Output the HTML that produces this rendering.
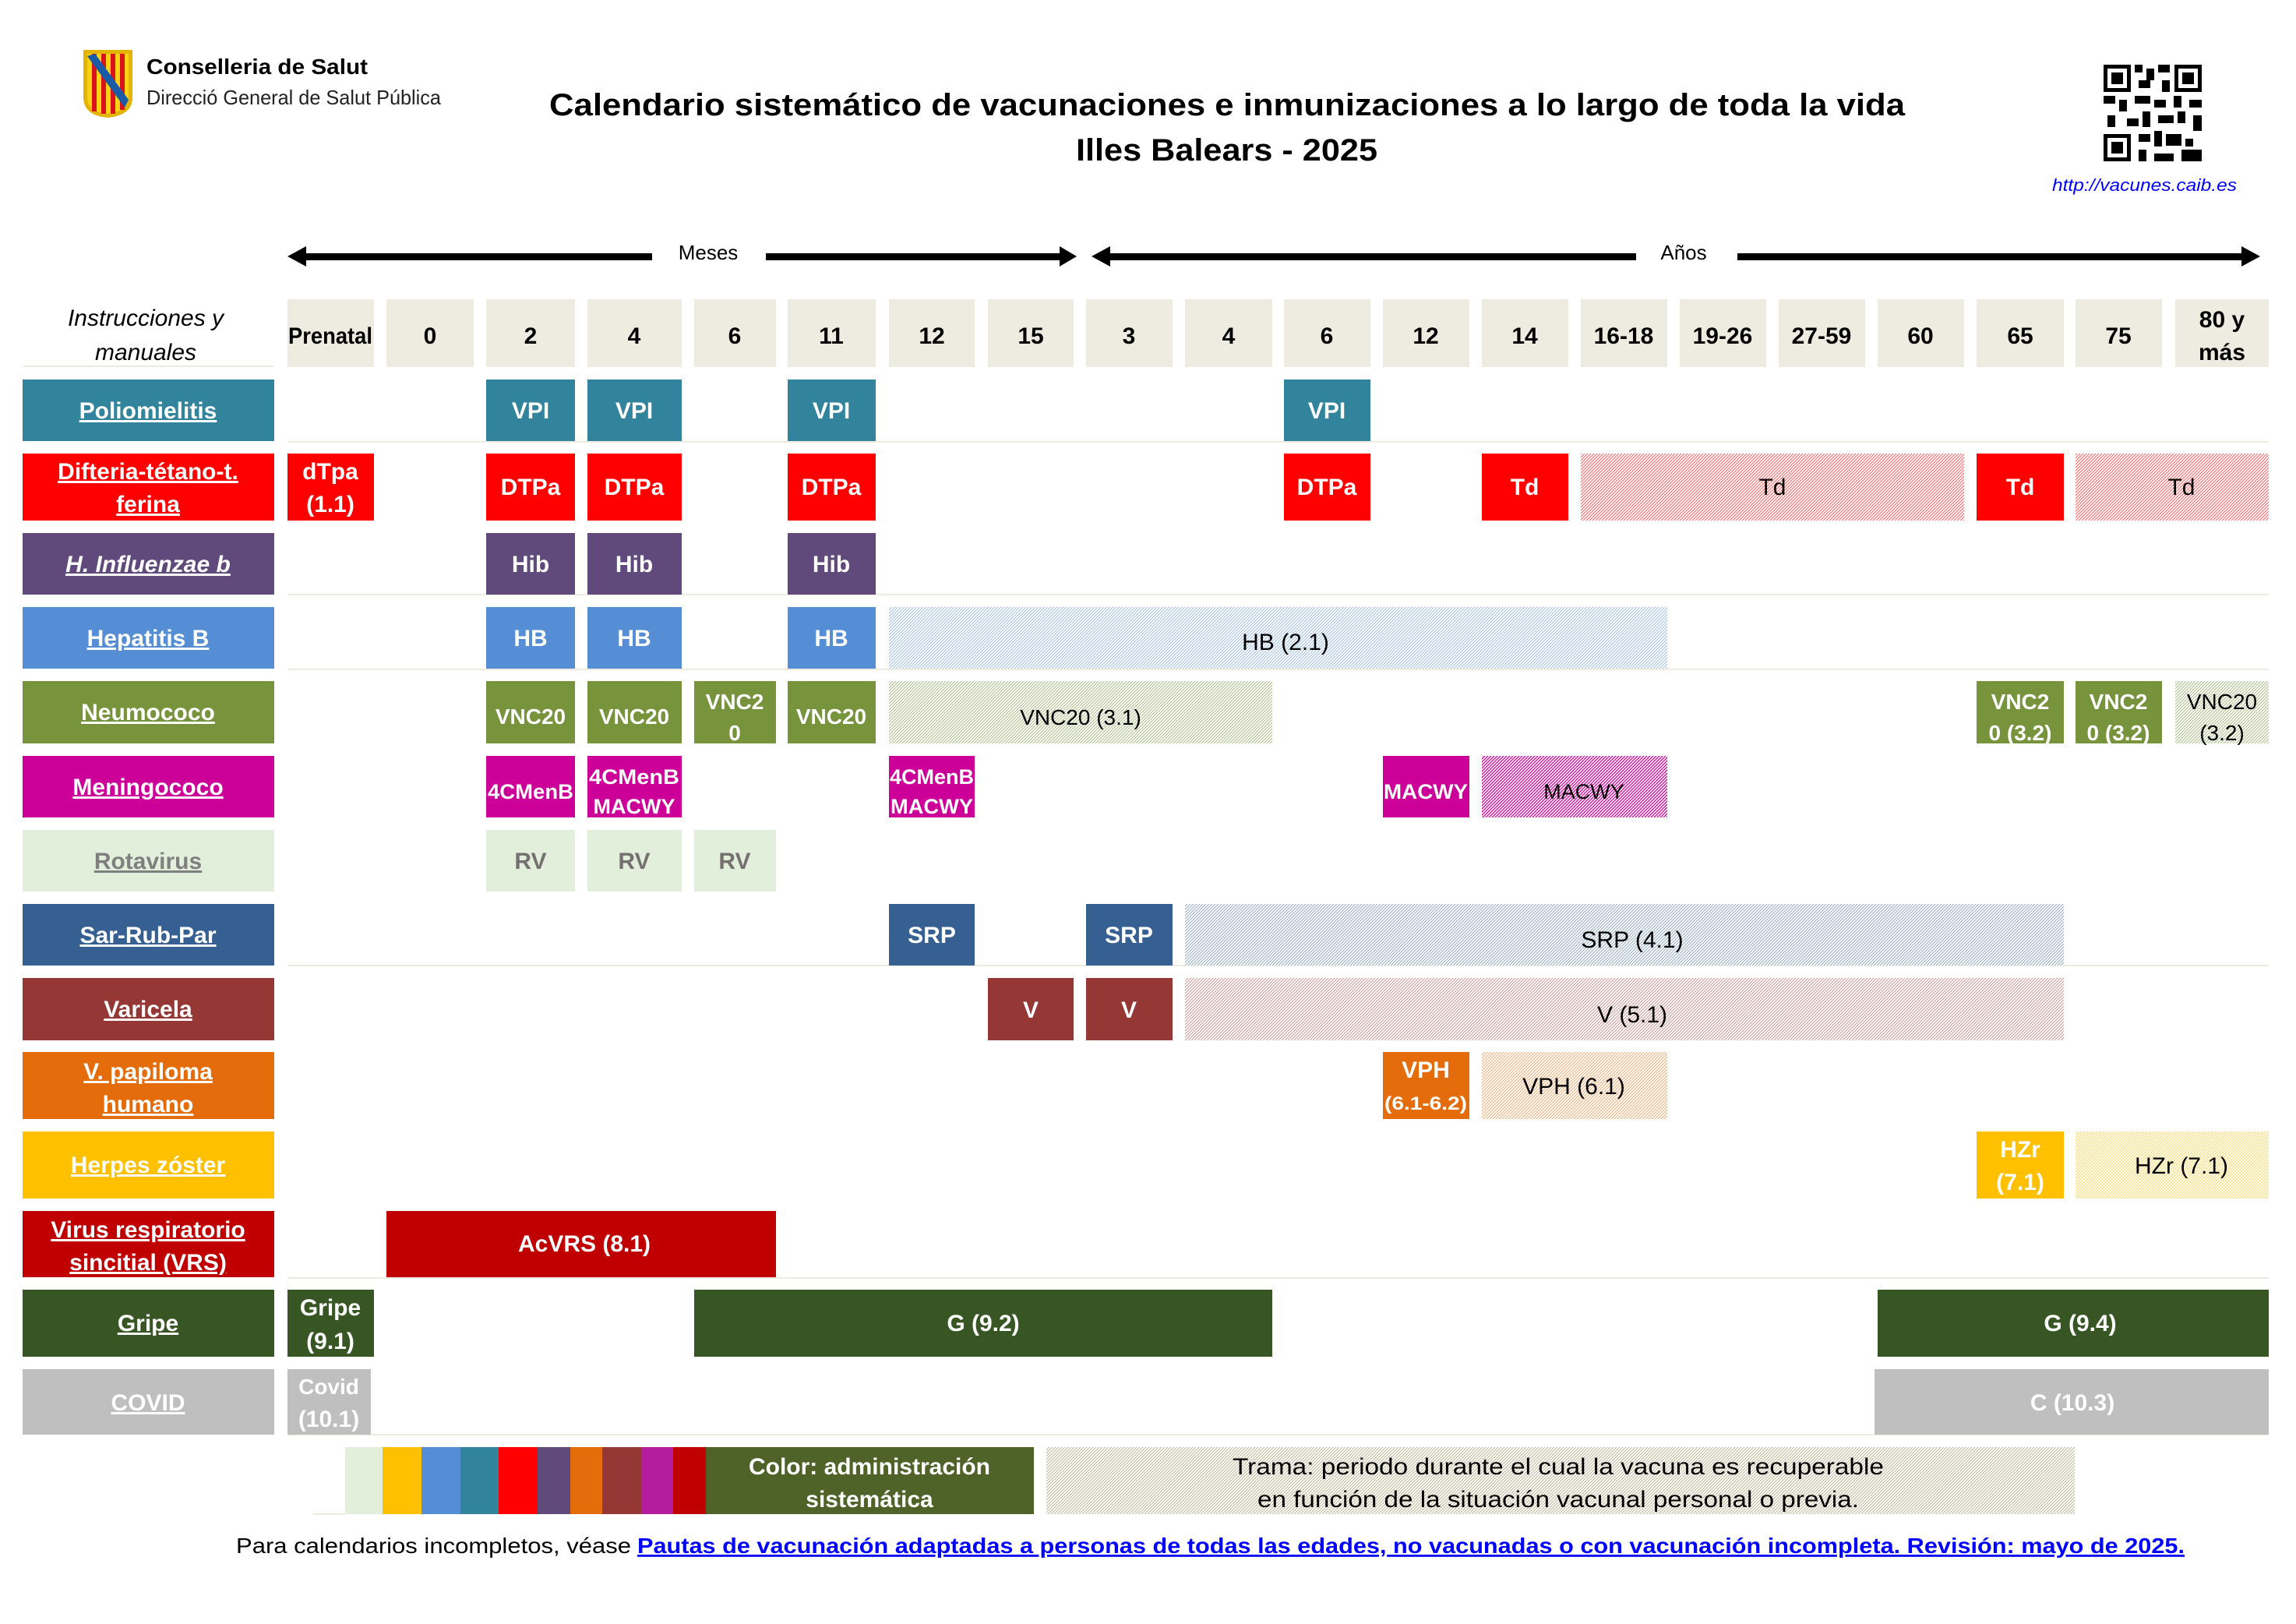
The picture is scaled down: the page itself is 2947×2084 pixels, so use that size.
<!DOCTYPE html>
<html><head><meta charset="utf-8"><style>html,body{margin:0;padding:0;background:#fff}svg{display:block}</style></head>
<body>
<svg xmlns="http://www.w3.org/2000/svg" width="2947" height="2084" viewBox="0 0 2947 2084" font-family="Liberation Sans, sans-serif">
<defs>
<pattern id="hR" width="4" height="4" patternUnits="userSpaceOnUse"><rect width="4" height="4" fill="#fff"/><path d="M-1,1 L1,-1 M0,4 L4,0 M3,5 L5,3" stroke="#ff0000" stroke-width="1.1" opacity="0.6"/></pattern>
<pattern id="hB" width="4" height="4" patternUnits="userSpaceOnUse"><rect width="4" height="4" fill="#fff"/><path d="M-1,1 L1,-1 M0,4 L4,0 M3,5 L5,3" stroke="#558ed5" stroke-width="1.1" opacity="0.55"/></pattern>
<pattern id="hG" width="4" height="4" patternUnits="userSpaceOnUse"><rect width="4" height="4" fill="#fff"/><path d="M-1,1 L1,-1 M0,4 L4,0 M3,5 L5,3" stroke="#77933c" stroke-width="1.1" opacity="0.6"/></pattern>
<pattern id="hM" width="4" height="4" patternUnits="userSpaceOnUse"><rect width="4" height="4" fill="#fff"/><path d="M-1,1 L1,-1 M0,4 L4,0 M3,5 L5,3" stroke="#cc0099" stroke-width="1.3"/></pattern>
<pattern id="hS" width="4" height="4" patternUnits="userSpaceOnUse"><rect width="4" height="4" fill="#fff"/><path d="M-1,1 L1,-1 M0,4 L4,0 M3,5 L5,3" stroke="#366092" stroke-width="1.1" opacity="0.5"/></pattern>
<pattern id="hV" width="4" height="4" patternUnits="userSpaceOnUse"><rect width="4" height="4" fill="#fff"/><path d="M-1,1 L1,-1 M0,4 L4,0 M3,5 L5,3" stroke="#953735" stroke-width="1.1" opacity="0.5"/></pattern>
<pattern id="hO" width="4" height="4" patternUnits="userSpaceOnUse"><rect width="4" height="4" fill="#fff"/><path d="M-1,1 L1,-1 M0,4 L4,0 M3,5 L5,3" stroke="#e46c0a" stroke-width="1.1" opacity="0.55"/></pattern>
<pattern id="hY" width="4" height="4" patternUnits="userSpaceOnUse"><rect width="4" height="4" fill="#fff"/><path d="M-1,1 L1,-1 M0,4 L4,0 M3,5 L5,3" stroke="#ffc000" stroke-width="1.1" opacity="0.6"/></pattern>
<pattern id="hL" width="4" height="4" patternUnits="userSpaceOnUse"><rect width="4" height="4" fill="#fff"/><path d="M-1,1 L1,-1 M0,4 L4,0 M3,5 L5,3" stroke="#948a54" stroke-width="1.1" opacity="0.6"/></pattern>
</defs>

<!-- Logo -->
<path d="M107,64 L170,64 L170,125 Q170,148 138,151 Q107,148 107,125 Z" fill="#e3b400"/>
<path d="M112,69 L165,69 L165,124 Q165,143 138,146 Q112,143 112,124 Z" fill="#fcd116"/>
<g fill="#da121a"><rect x="118" y="69" width="6" height="74"/><rect x="130" y="69" width="6" height="77"/><rect x="142" y="69" width="6" height="77"/><rect x="154" y="69" width="6" height="72"/></g>
<path d="M112,72 L122,69 L165,128 L160,138 Z" fill="#1a5aa6"/>
<text x="188" y="95" font-size="28" font-weight="bold" textLength="284" lengthAdjust="spacingAndGlyphs">Conselleria de Salut</text>
<text x="188" y="134" font-size="26" fill="#222" textLength="378" lengthAdjust="spacingAndGlyphs">Direcció General de Salut Pública</text>

<!-- Title -->
<text x="705" y="148" font-size="40" font-weight="bold" textLength="1740" lengthAdjust="spacingAndGlyphs">Calendario sistemático de vacunaciones e inmunizaciones a lo largo de toda la vida</text>
<text x="1381" y="206" font-size="40" font-weight="bold" textLength="387" lengthAdjust="spacingAndGlyphs">Illes Balears - 2025</text>

<!-- QR -->
<g fill="#000">
<rect x="2700" y="83" width="35" height="35"/><rect x="2705" y="88" width="25" height="25" fill="#fff"/><rect x="2710" y="93" width="15" height="15"/>
<rect x="2791" y="83" width="35" height="35"/><rect x="2796" y="88" width="25" height="25" fill="#fff"/><rect x="2801" y="93" width="15" height="15"/>
<rect x="2700" y="172" width="35" height="35"/><rect x="2705" y="177" width="25" height="25" fill="#fff"/><rect x="2710" y="182" width="15" height="15"/>
<rect x="2740" y="83" width="10" height="10"/><rect x="2755" y="88" width="10" height="15"/><rect x="2770" y="83" width="15" height="10"/><rect x="2745" y="103" width="15" height="10"/><rect x="2775" y="103" width="10" height="15"/>
<rect x="2700" y="123" width="15" height="10"/><rect x="2720" y="128" width="10" height="15"/><rect x="2740" y="123" width="20" height="10"/><rect x="2765" y="128" width="15" height="10"/><rect x="2790" y="123" width="10" height="15"/><rect x="2810" y="128" width="16" height="10"/>
<rect x="2705" y="148" width="10" height="15"/><rect x="2730" y="152" width="15" height="10"/><rect x="2750" y="143" width="10" height="20"/><rect x="2770" y="148" width="20" height="10"/><rect x="2795" y="143" width="10" height="15"/><rect x="2815" y="148" width="11" height="20"/>
<rect x="2745" y="172" width="15" height="10"/><rect x="2765" y="168" width="10" height="20"/><rect x="2780" y="172" width="20" height="15"/><rect x="2805" y="178" width="10" height="10"/><rect x="2745" y="192" width="10" height="15"/><rect x="2765" y="197" width="25" height="10"/><rect x="2800" y="192" width="26" height="15"/>
</g>
<text x="2634" y="245" font-size="22" font-style="italic" fill="#0000ff" textLength="237" lengthAdjust="spacingAndGlyphs">http://vacunes.caib.es</text>

<!-- Arrows -->
<g fill="#000">
<rect x="380" y="325" width="457" height="9"/><path d="M369,329 L393,316 L393,342 Z"/>
<rect x="983" y="325" width="386" height="9"/><path d="M1382,329 L1360,316 L1360,342 Z"/>
<rect x="1410" y="325" width="690" height="9"/><path d="M1401,329 L1425,316 L1425,342 Z"/>
<rect x="2230" y="325" width="650" height="9"/><path d="M2901,329 L2877,316 L2877,342 Z"/>
</g>
<text x="909" y="333" font-size="26" text-anchor="middle">Meses</text>
<text x="2161" y="333" font-size="26" text-anchor="middle">Años</text>

<!-- Header row -->
<text x="187" y="418" font-size="30" font-style="italic" text-anchor="middle">Instrucciones y</text>
<text x="187" y="462" font-size="30" font-style="italic" text-anchor="middle">manuales</text>
<rect x="29" y="469" width="323" height="2" fill="#eeece1"/>
<g fill="#eeece1">
<rect x="369" y="384" width="111" height="87"/><rect x="496" y="384" width="112" height="87"/><rect x="624" y="384" width="114" height="87"/><rect x="754" y="384" width="121" height="87"/><rect x="891" y="384" width="105" height="87"/><rect x="1011" y="384" width="113" height="87"/><rect x="1141" y="384" width="110" height="87"/><rect x="1268" y="384" width="110" height="87"/><rect x="1394" y="384" width="111" height="87"/><rect x="1521" y="384" width="112" height="87"/><rect x="1648" y="384" width="111" height="87"/><rect x="1775" y="384" width="111" height="87"/><rect x="1902" y="384" width="111" height="87"/><rect x="2029" y="384" width="111" height="87"/><rect x="2156" y="384" width="111" height="87"/><rect x="2283" y="384" width="111" height="87"/><rect x="2410" y="384" width="111" height="87"/><rect x="2537" y="384" width="112" height="87"/><rect x="2664" y="384" width="111" height="87"/><rect x="2792" y="384" width="120" height="87"/>
</g>
<g font-size="30" font-weight="bold" text-anchor="middle">
<text x="424" y="441" textLength="108" lengthAdjust="spacingAndGlyphs">Prenatal</text>
<text x="552" y="441">0</text><text x="681" y="441">2</text><text x="814" y="441">4</text><text x="943" y="441">6</text><text x="1067" y="441">11</text><text x="1196" y="441">12</text><text x="1323" y="441">15</text><text x="1449" y="441">3</text><text x="1577" y="441">4</text><text x="1703" y="441">6</text><text x="1830" y="441">12</text><text x="1957" y="441">14</text><text x="2084" y="441">16-18</text><text x="2211" y="441">19-26</text><text x="2338" y="441">27-59</text><text x="2465" y="441">60</text><text x="2593" y="441">65</text><text x="2719" y="441">75</text>
<text x="2852" y="420">80 y</text><text x="2852" y="462">más</text>
</g>

<!-- separator lines -->
<g fill="#eeece1">
<rect x="369" y="566" width="2543" height="2"/><rect x="369" y="762" width="2543" height="2"/><rect x="369" y="858" width="2543" height="2"/><rect x="369" y="1238" width="2543" height="2"/><rect x="369" y="1639" width="2543" height="2"/><rect x="369" y="1840" width="2543" height="2"/>
</g>

<!-- Left labels -->
<g font-size="30" font-weight="bold" text-anchor="middle" fill="#fff" text-decoration="underline">
<rect x="29" y="487" width="323" height="79" fill="#31849b"/><text x="190" y="537">Poliomielitis</text>
<rect x="29" y="582" width="323" height="86" fill="#ff0000"/><text x="190" y="615">Difteria-tétano-t.</text><text x="190" y="657">ferina</text>
<rect x="29" y="684" width="323" height="79" fill="#604a7b"/><text x="190" y="734" font-style="italic">H. Influenzae b</text>
<rect x="29" y="779" width="323" height="79" fill="#558ed5"/><text x="190" y="829">Hepatitis B</text>
<rect x="29" y="874" width="323" height="80" fill="#77933c"/><text x="190" y="924">Neumococo</text>
<rect x="29" y="970" width="323" height="79" fill="#cc0099"/><text x="190" y="1020">Meningococo</text>
<rect x="29" y="1065" width="323" height="79" fill="#e2efda"/><text x="190" y="1115" fill="#7f7f7f" text-decoration="underline">Rotavirus</text>
<rect x="29" y="1160" width="323" height="79" fill="#366092"/><text x="190" y="1210">Sar-Rub-Par</text>
<rect x="29" y="1255" width="323" height="80" fill="#953735"/><text x="190" y="1305">Varicela</text>
<rect x="29" y="1350" width="323" height="86" fill="#e46c0a"/><text x="190" y="1385">V. papiloma</text><text x="190" y="1427">humano</text>
<rect x="29" y="1452" width="323" height="86" fill="#ffc000"/><text x="190" y="1505">Herpes zóster</text>
<rect x="29" y="1554" width="323" height="85" fill="#c00000"/><text x="190" y="1588">Virus respiratorio</text><text x="190" y="1630">sincitial (VRS)</text>
<rect x="29" y="1655" width="323" height="86" fill="#375623"/><text x="190" y="1708">Gripe</text>
<rect x="29" y="1757" width="323" height="84" fill="#bfbfbf"/><text x="190" y="1810">COVID</text>
</g>

<!-- Cells -->
<g font-size="30" font-weight="bold" text-anchor="middle" fill="#fff">
<g fill="#31849b"><rect x="624" y="487" width="114" height="79"/><rect x="754" y="487" width="121" height="79"/><rect x="1011" y="487" width="113" height="79"/><rect x="1648" y="487" width="111" height="79"/></g>
<text x="681" y="537">VPI</text><text x="814" y="537">VPI</text><text x="1067" y="537">VPI</text><text x="1703" y="537">VPI</text>
<g fill="#ff0000"><rect x="369" y="582" width="111" height="86"/><rect x="624" y="582" width="114" height="86"/><rect x="754" y="582" width="121" height="86"/><rect x="1011" y="582" width="113" height="86"/><rect x="1648" y="582" width="111" height="86"/><rect x="1902" y="582" width="111" height="86"/><rect x="2537" y="582" width="112" height="86"/></g>
<rect x="2029" y="582" width="492" height="86" fill="url(#hR)"/><rect x="2664" y="582" width="248" height="86" fill="url(#hR)"/>
<text x="424" y="615">dTpa</text><text x="424" y="657">(1.1)</text>
<text x="681" y="635">DTPa</text><text x="814" y="635">DTPa</text><text x="1067" y="635">DTPa</text><text x="1703" y="635">DTPa</text><text x="1957" y="635">Td</text><text x="2593" y="635">Td</text>
<text x="2275" y="635" fill="#000" font-weight="normal">Td</text><text x="2800" y="635" fill="#000" font-weight="normal">Td</text>
<g fill="#604a7b"><rect x="624" y="684" width="114" height="79"/><rect x="754" y="684" width="121" height="79"/><rect x="1011" y="684" width="113" height="79"/></g>
<text x="681" y="734">Hib</text><text x="814" y="734">Hib</text><text x="1067" y="734">Hib</text>
<g fill="#558ed5"><rect x="624" y="779" width="114" height="79"/><rect x="754" y="779" width="121" height="79"/><rect x="1011" y="779" width="113" height="79"/></g>
<rect x="1141" y="779" width="999" height="79" fill="url(#hB)"/>
<text x="681" y="829">HB</text><text x="814" y="829">HB</text><text x="1067" y="829">HB</text>
<text x="1650" y="834" fill="#000" font-weight="normal">HB (2.1)</text>
<g fill="#77933c"><rect x="624" y="874" width="114" height="80"/><rect x="754" y="874" width="121" height="80"/><rect x="891" y="874" width="105" height="80"/><rect x="1011" y="874" width="113" height="80"/><rect x="2537" y="874" width="112" height="80"/><rect x="2664" y="874" width="111" height="80"/></g>
<rect x="1141" y="874" width="492" height="80" fill="url(#hG)"/><rect x="2792" y="874" width="120" height="80" fill="url(#hG)"/>
<g font-size="28"><text x="681" y="929">VNC20</text><text x="814" y="929">VNC20</text><text x="1067" y="929">VNC20</text>
<text x="943" y="910">VNC2</text><text x="943" y="950">0</text>
<text x="2593" y="910">VNC2</text><text x="2593" y="950">0 (3.2)</text>
<text x="2719" y="910">VNC2</text><text x="2719" y="950">0 (3.2)</text>
<g fill="#000" font-weight="normal"><text x="1387" y="930">VNC20 (3.1)</text><text x="2852" y="910">VNC20</text><text x="2852" y="950">(3.2)</text></g></g>
<g fill="#cc0099"><rect x="624" y="970" width="114" height="79"/><rect x="754" y="970" width="121" height="79"/><rect x="1141" y="970" width="110" height="79"/><rect x="1775" y="970" width="111" height="79"/></g>
<rect x="1902" y="970" width="238" height="79" fill="url(#hM)"/>
<g font-size="27"><text x="681" y="1025" textLength="110" lengthAdjust="spacingAndGlyphs">4CMenB</text>
<text x="814" y="1006" textLength="116" lengthAdjust="spacingAndGlyphs">4CMenB</text><text x="814" y="1044">MACWY</text>
<text x="1196" y="1006" textLength="108" lengthAdjust="spacingAndGlyphs">4CMenB</text><text x="1196" y="1044" textLength="106" lengthAdjust="spacingAndGlyphs">MACWY</text>
<text x="1830" y="1025" textLength="108" lengthAdjust="spacingAndGlyphs">MACWY</text>
<text x="2033" y="1025" fill="#000" font-weight="normal">MACWY</text></g>
<g fill="#e2efda"><rect x="624" y="1065" width="114" height="79"/><rect x="754" y="1065" width="121" height="79"/><rect x="891" y="1065" width="105" height="79"/></g>
<g fill="#767171"><text x="681" y="1115">RV</text><text x="814" y="1115">RV</text><text x="943" y="1115">RV</text></g>
<g fill="#366092"><rect x="1141" y="1160" width="110" height="79"/><rect x="1394" y="1160" width="111" height="79"/></g>
<rect x="1521" y="1160" width="1128" height="79" fill="url(#hS)"/>
<text x="1196" y="1210">SRP</text><text x="1449" y="1210">SRP</text>
<text x="2095" y="1216" fill="#000" font-weight="normal">SRP (4.1)</text>
<g fill="#953735"><rect x="1268" y="1255" width="110" height="80"/><rect x="1394" y="1255" width="111" height="80"/></g>
<rect x="1521" y="1255" width="1128" height="80" fill="url(#hV)"/>
<text x="1323" y="1306">V</text><text x="1449" y="1306">V</text>
<text x="2095" y="1312" fill="#000" font-weight="normal">V (5.1)</text>
<rect x="1775" y="1350" width="111" height="86" fill="#e46c0a"/>
<rect x="1902" y="1350" width="238" height="86" fill="url(#hO)"/>
<text x="1830" y="1383">VPH</text><text x="1830" y="1424" font-size="24" textLength="106" lengthAdjust="spacingAndGlyphs">(6.1-6.2)</text>
<text x="2020" y="1404" fill="#000" font-weight="normal">VPH (6.1)</text>
<rect x="2537" y="1452" width="112" height="86" fill="#ffc000"/>
<rect x="2664" y="1452" width="248" height="86" fill="url(#hY)"/>
<text x="2593" y="1485">HZr</text><text x="2593" y="1527">(7.1)</text>
<text x="2800" y="1506" fill="#000" font-weight="normal">HZr (7.1)</text>
<rect x="496" y="1554" width="500" height="85" fill="#c00000"/>
<text x="750" y="1606">AcVRS (8.1)</text>
<g fill="#375623"><rect x="369" y="1655" width="111" height="86"/><rect x="891" y="1655" width="742" height="86"/><rect x="2410" y="1655" width="502" height="86"/></g>
<text x="424" y="1688">Gripe</text><text x="424" y="1731">(9.1)</text>
<text x="1262" y="1708">G (9.2)</text><text x="2670" y="1708">G (9.4)</text>
<g fill="#bfbfbf"><rect x="369" y="1757" width="107" height="84"/><rect x="2406" y="1757" width="506" height="84"/></g>
<text x="422" y="1789" font-size="28">Covid</text><text x="422" y="1831">(10.1)</text>
<text x="2660" y="1810">C (10.3)</text>
</g>

<!-- Legend -->
<rect x="402" y="1942" width="41" height="2" fill="#eeece1"/>
<rect x="443" y="1857" width="48" height="86" fill="#e2efda"/>
<rect x="491" y="1857" width="50" height="86" fill="#ffc000"/>
<rect x="541" y="1857" width="50" height="86" fill="#558ed5"/>
<rect x="591" y="1857" width="49" height="86" fill="#31849b"/>
<rect x="640" y="1857" width="50" height="86" fill="#ff0000"/>
<rect x="690" y="1857" width="42" height="86" fill="#604a7b"/>
<rect x="732" y="1857" width="41" height="86" fill="#e46c0a"/>
<rect x="773" y="1857" width="50" height="86" fill="#953735"/>
<rect x="823" y="1857" width="41" height="86" fill="#b41e9e"/>
<rect x="864" y="1857" width="42" height="86" fill="#c00000"/>
<rect x="906" y="1857" width="421" height="86" fill="#4f6228"/>
<text x="1116" y="1892" font-size="30" font-weight="bold" fill="#fff" text-anchor="middle">Color: administración</text>
<text x="1116" y="1934" font-size="30" font-weight="bold" fill="#fff" text-anchor="middle">sistemática</text>
<rect x="1343" y="1857" width="1320" height="86" fill="url(#hL)"/>
<text x="2000" y="1892" font-size="30" text-anchor="middle" textLength="836" lengthAdjust="spacingAndGlyphs">Trama: periodo durante el cual la vacuna es recuperable</text>
<text x="2000" y="1934" font-size="30" text-anchor="middle" textLength="772" lengthAdjust="spacingAndGlyphs">en función de la situación vacunal personal o previa.</text>

<!-- Footer -->
<text x="303" y="1993" font-size="28" textLength="507" lengthAdjust="spacingAndGlyphs">Para calendarios incompletos, véase</text>
<text x="818" y="1993" font-size="28" font-weight="bold" fill="#0000ff" text-decoration="underline" textLength="1986" lengthAdjust="spacingAndGlyphs">Pautas de vacunación adaptadas a personas de todas las edades, no vacunadas o con vacunación incompleta. Revisión: mayo de 2025.</text>
</svg>
</body></html>
